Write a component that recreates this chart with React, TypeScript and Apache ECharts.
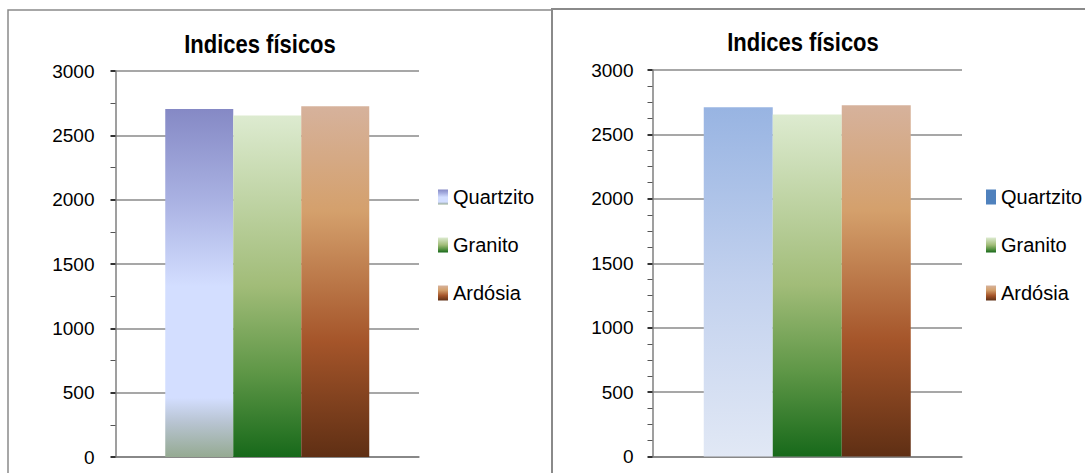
import React, { useEffect, useRef } from "react";
import * as echarts from "echarts";

// Chart content
const chartTitle = "Indices físicos";
const categories = [""];
const seriesNames = ["Quartzito", "Granito", "Ardósia"];
const leftValues = [2705, 2655, 2727];
const rightValues = [2710, 2655, 2727];
const yTicks = { min: 0, max: 3000, interval: 500 };

const FONT = "'Liberation Sans', Arial, sans-serif";

const vGrad = (stops: [number, string][]) =>
  new echarts.graphic.LinearGradient(
    0,
    0,
    0,
    1,
    stops.map(([offset, color]) => ({ offset, color }))
  );

const quartzitoLeft = vGrad([
  [0, "#8589C5"],
  [0.26, "#A9B1E2"],
  [0.51, "#D3DEFF"],
  [0.83, "#D3DEFF"],
  [0.9, "#B8C4D2"],
  [1, "#95AA92"],
]);
const quartzitoRight = vGrad([
  [0, "#98B4E2"],
  [0.5, "#C2D1EE"],
  [1, "#E1E8F5"],
]);
const granito = () =>
  vGrad([
    [0, "#DDEBD0"],
    [0.5, "#A1BC78"],
    [0.75, "#5F9747"],
    [1, "#17691A"],
  ]);
const ardosia = () =>
  vGrad([
    [0, "#D6B29C"],
    [0.3, "#D4A06C"],
    [0.67, "#A5552A"],
    [1, "#5F2F14"],
  ]);

const gridBoxes = [
  { left: 115.5, top: 71, width: 303.5, height: 386 },
  { left: 652.5, top: 70, width: 309.5, height: 386.5 },
];
const barWidths = [68, 69];
const minorSplits = [2, 4];

const makeYAxis = (gridIndex: number) => ({
  type: "value",
  gridIndex,
  min: yTicks.min,
  max: yTicks.max,
  interval: yTicks.interval,
  axisLine: { show: true, lineStyle: { color: "#7f7f7f", width: 1.5 } },
  axisTick: { show: true, length: 5, lineStyle: { color: "#333", width: 2 } },
  minorTick: {
    show: true,
    splitNumber: minorSplits[gridIndex],
    length: 5,
    lineStyle: { color: "#555", width: 1 },
  },
  axisLabel: {
    margin: gridIndex === 0 ? 21 : 19,
    fontSize: 19,
    color: "#000",
    fontFamily: FONT,
    formatter: (v: number) => String(v),
  },
  splitLine: { show: true, lineStyle: { color: "#8a8a8a", width: 1.5 } },
});

const makeXAxis = (gridIndex: number) => ({
  type: "category",
  gridIndex,
  data: categories,
  axisLine: { show: true, lineStyle: { color: "#7f7f7f", width: 1.5 } },
  axisTick: { show: false },
  axisLabel: { show: false },
});

const makeSeries = (gridIndex: number, values: number[]) => {
  const colors = [gridIndex === 0 ? quartzitoLeft : quartzitoRight, granito(), ardosia()];
  return seriesNames.map((name, i) => ({
    type: "bar",
    name,
    xAxisIndex: gridIndex,
    yAxisIndex: gridIndex,
    data: [values[i]],
    barWidth: barWidths[gridIndex],
    barGap: "0%",
    itemStyle: { color: colors[i] },
  }));
};

const makeLegend = (left: number, quartzitoColor: any) => ({
  orient: "vertical",
  left,
  top: 182,
  icon: "rect",
  itemWidth: 10,
  itemHeight: 15,
  itemGap: 28,
  textStyle: { fontSize: 20, color: "#000", fontFamily: FONT },
  data: [
    { name: seriesNames[0], itemStyle: { color: quartzitoColor } },
    { name: seriesNames[1], itemStyle: { color: granito() } },
    { name: seriesNames[2], itemStyle: { color: ardosia() } },
  ],
  selectedMode: false,
});

const titleText = (x: number, y: number) => ({
  type: "text",
  x,
  y,
  scaleX: 0.88,
  style: {
    text: chartTitle,
    font: `bold 25px ${FONT}`,
    fill: "#000",
    align: "center",
    verticalAlign: "middle",
  },
});

export default function App() {
  const ref = useRef<HTMLDivElement>(null);

  useEffect(() => {
    if (!ref.current) return;
    const chart = echarts.init(ref.current, undefined, { renderer: "svg" });
    chart.setOption({
      animation: false,
      backgroundColor: "#ffffff",
      textStyle: { fontFamily: FONT },
      grid: gridBoxes.map((g) => ({ ...g, containLabel: false })),
      xAxis: [makeXAxis(0), makeXAxis(1)],
      yAxis: [makeYAxis(0), makeYAxis(1)],
      legend: [makeLegend(433, quartzitoLeft), makeLegend(981, "#4F81BD")],
      series: [...makeSeries(0, leftValues), ...makeSeries(1, rightValues)],
      graphic: [
        {
          type: "rect",
          shape: { x: 8, y: 10, width: 544, height: 480 },
          style: { fill: "none", stroke: "#8a8a8a", lineWidth: 1.5 },
          silent: true,
        },
        {
          type: "rect",
          shape: { x: 552, y: 9, width: 560, height: 480 },
          style: { fill: "none", stroke: "#8a8a8a", lineWidth: 2 },
          silent: true,
        },
        titleText(260, 45),
        titleText(803, 43),
      ],
    });
    return () => chart.dispose();
  }, []);

  return (
    <div
      ref={ref}
      style={{ position: "fixed", left: 0, top: 0, width: 1085, height: 473 }}
    />
  );
}
